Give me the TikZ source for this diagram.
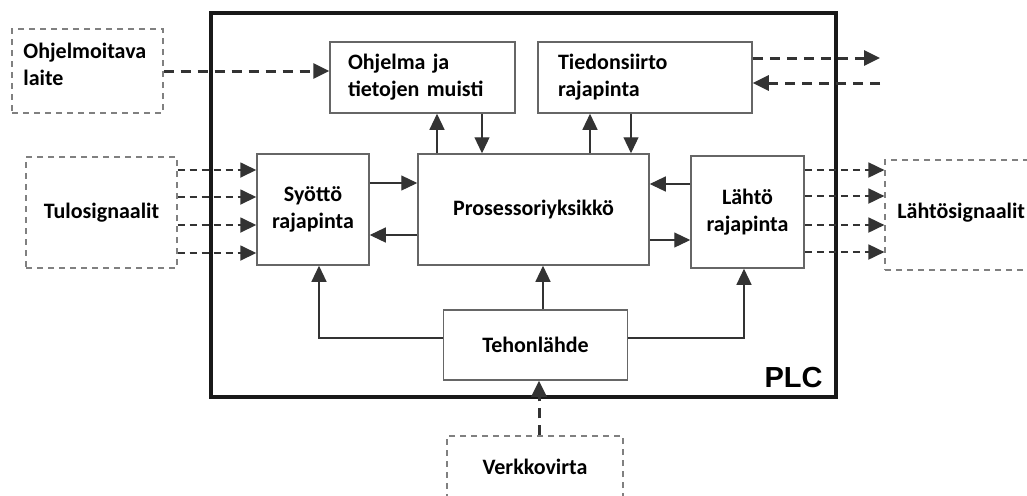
\documentclass[tikz,border=0pt]{standalone}
\usepackage{fontspec}
\setmainfont{Carlito}
\newfontfamily\plcfont{Liberation Sans}
\usetikzlibrary{arrows.meta}

\tikzset{
  blok/.style={draw=black!60, line width=0.75pt, fill=white, align=center},
  ulko/.style={draw=black!50, line width=0.6pt, dash pattern=on 3pt off 2.5pt},
  nuoli/.style={-{Triangle[length=8pt,width=7.5pt]}, draw=black!80, line width=0.6pt},
  katko/.style={nuoli, draw=black!80, line width=1.5pt, dash pattern=on 5pt off 3.5pt},
  signaali/.style={nuoli, draw=black!80, line width=0.9pt, dash pattern=on 3.5pt off 2.5pt},
}

\begin{document}
\begin{tikzpicture}[x=0.5pt,y=-0.5pt, font=\fontsize{11}{13.5}\selectfont\bfseries]
\clip (0,0) rectangle (1027,495);

% PLC
\node[draw=black!90, line width=2pt, minimum width=312.5pt, minimum height=192pt] (plc) at (523.5,205) {};
\node[anchor=east, inner sep=0pt, font=\plcfont\fontsize{14.5}{16}\selectfont\bfseries] (plcteksti) at (823,378) {PLC};

% ulkoiset laitteet
\node[ulko, minimum width=75.5pt, minimum height=42pt] (laite) at (87.5,71) {};
\node[anchor=west, align=left, inner sep=0pt] (laiteteksti) at (23,64) {Ohjelmoitava\\laite};
\node[ulko, minimum width=75.5pt, minimum height=55.5pt] (tulo) at (101.5,212.5) {Tulosignaalit};
\node[ulko, minimum width=80pt, minimum height=55pt] (lahtos) at (965,215) {};
\node[anchor=west, inner sep=0pt] (lahtosteksti) at (897,213) {Lähtösignaalit};
\node[ulko, minimum width=88pt, minimum height=37pt] (verkko) at (535,473) {};
\node[inner sep=0pt] (verkkoteksti) at (535,467) {Verkkovirta};

% PLC:n osat
\node[blok, align=left, text width=74.5pt, inner xsep=9pt, minimum height=35.5pt] (muisti) at (422.5,77.5) {Ohjelma ja\\tietojen muisti};
\node[blok, align=left, text width=87pt, inner xsep=10pt, minimum height=35.5pt] (siirto) at (645,77.5) {Tiedonsiirto\\rajapinta};
\node[blok, minimum width=56pt, minimum height=55.5pt] (syotto) at (313,209.5) {Syöttö\\rajapinta};
\node[blok, minimum width=115.5pt, minimum height=55.5pt] (proc) at (533.5,209.5) {Prosessoriyksikkö};
\node[blok, minimum width=56.5pt, minimum height=56pt] (lahto) at (747.5,212) {Lähtö\\rajapinta};
\node[blok, minimum width=92pt, minimum height=35pt] (teho) at (535.5,345) {Tehonlähde};

% katkoviivat
\coordinate (ulos) at (880,58);
\coordinate (sisaan) at (880,83);
\draw[katko] (laite.east) -- (laite.east -| muisti.west);
\draw[katko] (siirto.east |- ulos) -- (ulos);
\draw[katko] (sisaan) -- (siirto.east |- sisaan);
\draw[katko] (verkko.north -| 539,0) -- (teho.south -| 539,0);
\foreach \y in {170,197,225,253}
  \draw[signaali] (tulo.east |- 0,\y) -- (syotto.west |- 0,\y);
\foreach \y in {170,196,225,252}
  \draw[signaali] (lahto.east |- 0,\y) -- (lahtos.west |- 0,\y);

% sisaiset yhteydet
\draw[nuoli] (syotto.east |- 0,183) -- (proc.west |- 0,183);
\draw[nuoli] (proc.west |- 0,235) -- (syotto.east |- 0,235);
\draw[nuoli] (lahto.west |- 0,184) -- (proc.east |- 0,184);
\draw[nuoli] (proc.east |- 0,240) -- (lahto.west |- 0,240);
\draw[nuoli] (proc.north -| 437,0) -- (muisti.south -| 437,0);
\draw[nuoli] (muisti.south -| 482,0) -- (proc.north -| 482,0);
\draw[nuoli] (proc.north -| 590,0) -- (siirto.south -| 590,0);
\draw[nuoli] (siirto.south -| 631,0) -- (proc.north -| 631,0);
\draw[nuoli] (teho.north -| 543,0) -- (proc.south -| 543,0);
\draw[nuoli] (teho.west |- 0,338) -| (syotto.south -| 319,0);
\draw[nuoli] (teho.east |- 0,338) -| (lahto.south -| 744,0);
\end{tikzpicture}
\end{document}
